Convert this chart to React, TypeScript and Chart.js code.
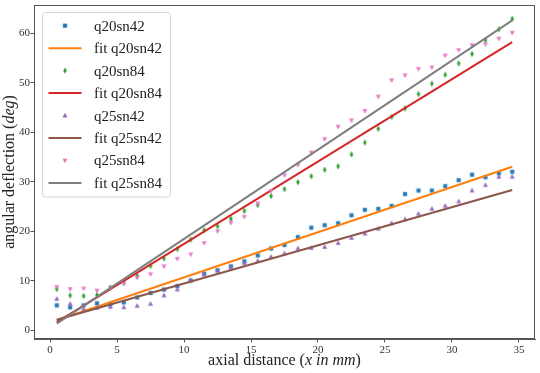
import React, { useEffect, useRef } from 'react';
import { Chart, registerables } from 'chart.js';

Chart.register(...registerables);

// ---------- data ----------
const xValues = [
  0.5, 1.5, 2.5, 3.5, 4.5, 5.5, 6.5, 7.5, 8.5, 9.5, 10.5, 11.5, 12.5, 13.5, 14.5, 15.5, 16.5, 17.5,
  18.5, 19.5, 20.5, 21.5, 22.5, 23.5, 24.5, 25.5, 26.5, 27.5, 28.5, 29.5, 30.5, 31.5, 32.5, 33.5, 34.5,
];
const q20sn42 = [
  5.0, 4.6, 5.0, 5.4, 5.2, 5.6, 6.6, 7.5, 8.2, 8.9, 10.0, 11.4, 12.1, 12.9, 13.9, 15.1, 16.5, 17.2,
  18.8, 20.7, 21.2, 21.6, 23.2, 24.3, 24.5, 25.1, 27.5, 28.2, 28.2, 29.1, 30.3, 31.4, 30.9, 31.7, 32.0,
];
const q20sn84 = [
  8.3, 7.0, 6.9, 7.1, 8.6, 9.6, 11.0, 13.0, 14.5, 16.4, 18.3, 20.2, 21.0, 22.5, 24.1, 25.3, 27.1, 28.5,
  29.9, 31.1, 32.4, 33.1, 35.5, 37.9, 40.7, 43.1, 44.8, 47.7, 49.8, 51.6, 53.9, 55.8, 58.6, 60.8, 62.9,
];
const q25sn42 = [
  6.3, 5.3, 4.3, 4.5, 4.7, 4.6, 4.9, 5.3, 7.0, 8.2, 10.1, 11.2, 12.0, 12.6, 13.5, 14.0, 14.8, 15.5,
  16.5, 16.6, 16.8, 17.6, 18.6, 19.5, 20.5, 21.6, 22.4, 23.5, 24.5, 25.1, 26.0, 28.2, 29.3, 31.0, 31.0,
];
const q25sn84 = [
  8.7, 8.3, 8.4, 8.0, 8.5, 9.4, 10.6, 11.3, 12.9, 14.4, 15.3, 17.6, 20.0, 21.7, 22.9, 25.6, 28.1, 31.3,
  33.4, 35.9, 38.6, 41.1, 42.4, 44.3, 47.2, 50.5, 51.5, 52.8, 53.1, 55.5, 56.6, 57.6, 57.8, 58.9, 60.1,
];
const fitX = [0.5, 34.5];
const fitQ20sn42 = [2.0, 33.0];
const fitQ20sn84 = [1.6, 58.2];
const fitQ25sn42 = [2.1, 28.3];
const fitQ25sn84 = [1.3, 62.6];

const xTicks = [0, 5, 10, 15, 20, 25, 30, 35];
const yTicks = [0, 10, 20, 30, 40, 50, 60];

const seriesNames = ['q20sn42', 'fit q20sn42', 'q20sn84', 'fit q20sn84', 'q25sn42', 'fit q25sn42', 'q25sn84', 'fit q25sn84'];

const C = {
  blue: '#1f77b4',
  orange: '#ff7f0e',
  green: '#2ca02c',
  red: '#d62728',
  purple: '#9467bd',
  brown: '#8c564b',
  pink: '#e377c2',
  gray: '#7f7f7f',
};

const FONT = "'Liberation Serif', 'DejaVu Serif', serif";
const SPINE = '#555555';

type MarkerKind = 'square' | 'thinDiamond' | 'triUp' | 'triDown';

function drawMarker(ctx: CanvasRenderingContext2D, kind: MarkerKind, cx: number, cy: number, color: string) {
  ctx.save();
  ctx.fillStyle = color;
  ctx.strokeStyle = color;
  ctx.lineWidth = 0.5;
  ctx.beginPath();
  if (kind === 'square') {
    ctx.rect(cx - 1.8, cy - 1.8, 3.6, 3.6);
  } else if (kind === 'thinDiamond') {
    ctx.moveTo(cx, cy - 2.7);
    ctx.lineTo(cx + 1.5, cy);
    ctx.lineTo(cx, cy + 2.7);
    ctx.lineTo(cx - 1.5, cy);
    ctx.closePath();
  } else if (kind === 'triUp') {
    ctx.moveTo(cx, cy - 2.3);
    ctx.lineTo(cx + 2.1, cy + 1.6);
    ctx.lineTo(cx - 2.1, cy + 1.6);
    ctx.closePath();
  } else {
    ctx.moveTo(cx, cy + 2.3);
    ctx.lineTo(cx + 2.1, cy - 1.6);
    ctx.lineTo(cx - 2.1, cy - 1.6);
    ctx.closePath();
  }
  ctx.fill();
  ctx.stroke();
  ctx.restore();
}

function markerImage(kind: MarkerKind, color: string): HTMLCanvasElement {
  const c = document.createElement('canvas');
  c.width = 8;
  c.height = 8;
  const ctx = c.getContext('2d')!;
  drawMarker(ctx, kind, 4, 4, color);
  return c;
}

function toPoints(xs: number[], ys: number[]) {
  return xs.map((x, i) => ({ x, y: ys[i] }));
}

type Seg = { t: string; italic?: boolean };

function drawSegments(ctx: CanvasRenderingContext2D, segs: Seg[], size: number) {
  const fonts = segs.map((s) => `${s.italic ? 'italic ' : ''}${size}px ${FONT}`);
  let total = 0;
  const widths = segs.map((s, i) => {
    ctx.font = fonts[i];
    const w = ctx.measureText(s.t).width;
    total += w;
    return w;
  });
  let x = -total / 2;
  segs.forEach((s, i) => {
    ctx.font = fonts[i];
    ctx.fillText(s.t, x, 0);
    x += widths[i];
  });
}

const legendEntries: { name: string; kind: 'marker' | 'line'; color: string; marker?: MarkerKind }[] = [
  { name: seriesNames[0], kind: 'marker', color: C.blue, marker: 'square' },
  { name: seriesNames[1], kind: 'line', color: C.orange },
  { name: seriesNames[2], kind: 'marker', color: C.green, marker: 'thinDiamond' },
  { name: seriesNames[3], kind: 'line', color: C.red },
  { name: seriesNames[4], kind: 'marker', color: C.purple, marker: 'triUp' },
  { name: seriesNames[5], kind: 'line', color: C.brown },
  { name: seriesNames[6], kind: 'marker', color: C.pink, marker: 'triDown' },
  { name: seriesNames[7], kind: 'line', color: C.gray },
];

const decorPlugin = {
  id: 'decor',
  afterDraw(chart: any) {
    const ctx: CanvasRenderingContext2D = chart.ctx;
    const a = chart.chartArea;
    ctx.save();
    // frame (top/right spines)
    ctx.strokeStyle = SPINE;
    ctx.lineWidth = 1;
    ctx.strokeRect(Math.round(a.left) + 0.5, Math.round(a.top) + 0.5, Math.round(a.right - a.left) - 1, Math.round(a.bottom - a.top) - 1);

    // legend
    const bx = 42.5, by = 12.5, bw = 128, bh = 184.5, r = 3;
    ctx.beginPath();
    ctx.moveTo(bx + r, by);
    ctx.lineTo(bx + bw - r, by);
    ctx.arcTo(bx + bw, by, bx + bw, by + r, r);
    ctx.lineTo(bx + bw, by + bh - r);
    ctx.arcTo(bx + bw, by + bh, bx + bw - r, by + bh, r);
    ctx.lineTo(bx + r, by + bh);
    ctx.arcTo(bx, by + bh, bx, by + bh - r, r);
    ctx.lineTo(bx, by + r);
    ctx.arcTo(bx, by, bx + r, by, r);
    ctx.closePath();
    ctx.fillStyle = 'rgba(255,255,255,0.8)';
    ctx.fill();
    ctx.strokeStyle = '#d6d6d6';
    ctx.lineWidth = 1;
    ctx.stroke();

    ctx.font = `15px ${FONT}`;
    ctx.textBaseline = 'middle';
    ctx.textAlign = 'left';
    legendEntries.forEach((e, i) => {
      const y = 25.7 + i * 22.47;
      if (e.kind === 'line') {
        ctx.strokeStyle = e.color;
        ctx.lineWidth = 2;
        ctx.beginPath();
        ctx.moveTo(48.5, y);
        ctx.lineTo(81.5, y);
        ctx.stroke();
      } else {
        drawMarker(ctx, e.marker!, 65, y, e.color);
      }
      ctx.fillStyle = '#222';
      ctx.fillText(e.name, 94, y + 1);
    });

    // y tick labels
    const ys = chart.scales.y;
    ctx.fillStyle = '#333';
    ctx.font = `11px ${FONT}`;
    ctx.textAlign = 'right';
    ctx.textBaseline = 'middle';
    yTicks.forEach((v) => {
      ctx.fillText(String(v), 30, ys.getPixelForValue(v));
    });

    // axis titles
    ctx.fillStyle = '#222';
    ctx.textBaseline = 'middle';
    ctx.textAlign = 'left';
    ctx.save();
    ctx.translate((a.left + a.right) / 2, 361);
    drawSegments(ctx, [{ t: 'axial distance (' }, { t: 'x in mm', italic: true }, { t: ')' }], 16);
    ctx.restore();
    ctx.save();
    ctx.translate(10, (a.top + a.bottom) / 2);
    ctx.rotate(-Math.PI / 2);
    drawSegments(ctx, [{ t: 'angular deflection (' }, { t: 'deg', italic: true }, { t: ')' }], 16);
    ctx.restore();

    ctx.restore();
  },
};

export default function App() {
  const canvasRef = useRef<HTMLCanvasElement | null>(null);

  useEffect(() => {
    document.body.style.margin = '0';
    const canvas = canvasRef.current;
    if (!canvas) return;

    const scatter = (label: string, ys: number[], kind: MarkerKind, color: string, idx: number) => ({
      label,
      data: toPoints(xValues, ys),
      showLine: false,
      pointStyle: markerImage(kind, color),
      pointRadius: 3,
      backgroundColor: color,
      borderColor: color,
      order: 10 - idx,
    });
    const fit = (label: string, ys: number[], color: string, idx: number) => ({
      label,
      data: toPoints(fitX, ys),
      showLine: true,
      pointRadius: 0,
      borderColor: color,
      backgroundColor: color,
      borderWidth: 2,
      order: 10 - idx,
    });

    const chart = new Chart(canvas, {
      type: 'scatter',
      data: {
        datasets: [
          scatter(seriesNames[0], q20sn42, 'square', C.blue, 0),
          fit(seriesNames[1], fitQ20sn42, C.orange, 1),
          scatter(seriesNames[2], q20sn84, 'thinDiamond', C.green, 2),
          fit(seriesNames[3], fitQ20sn84, C.red, 3),
          scatter(seriesNames[4], q25sn42, 'triUp', C.purple, 4),
          fit(seriesNames[5], fitQ25sn42, C.brown, 5),
          scatter(seriesNames[6], q25sn84, 'triDown', C.pink, 6),
          fit(seriesNames[7], fitQ25sn84, C.gray, 7),
        ] as any,
      },
      options: {
        responsive: false,
        animation: false,
        events: [],
        devicePixelRatio: 1,
        layout: { padding: { left: 0, right: 4, top: 5, bottom: 0 } },
        plugins: {
          legend: { display: false },
          tooltip: { enabled: false },
        },
        scales: {
          x: {
            type: 'linear',
            min: -1.2,
            max: 36.2,
            afterBuildTicks: (s: any) => {
              s.ticks = xTicks.map((v) => ({ value: v }));
            },
            afterFit: (s: any) => {
              s.height = 34;
            },
            grid: { drawOnChartArea: false, drawTicks: true, tickLength: 3.5, color: SPINE },
            border: { display: true, color: SPINE, width: 1 },
            ticks: { font: { family: FONT, size: 11 }, color: '#333', padding: 1, maxRotation: 0, autoSkip: false },
          },
          y: {
            type: 'linear',
            min: -1.8,
            max: 65.7,
            afterBuildTicks: (s: any) => {
              s.ticks = yTicks.map((v) => ({ value: v }));
            },
            afterFit: (s: any) => {
              s.width = 34;
            },
            grid: { drawOnChartArea: false, drawTicks: true, tickLength: 3.5, color: SPINE },
            border: { display: true, color: SPINE, width: 1 },
            ticks: { display: false },
          },
        },
      } as any,
      plugins: [decorPlugin],
    });

    return () => {
      chart.destroy();
    };
  }, []);

  return (
    <div style={{ position: 'absolute', left: 0, top: 0, width: 540, height: 373, background: '#fff' }}>
      <canvas ref={canvasRef} width={540} height={373} style={{ width: 540, height: 373, display: 'block' }} />
    </div>
  );
}
